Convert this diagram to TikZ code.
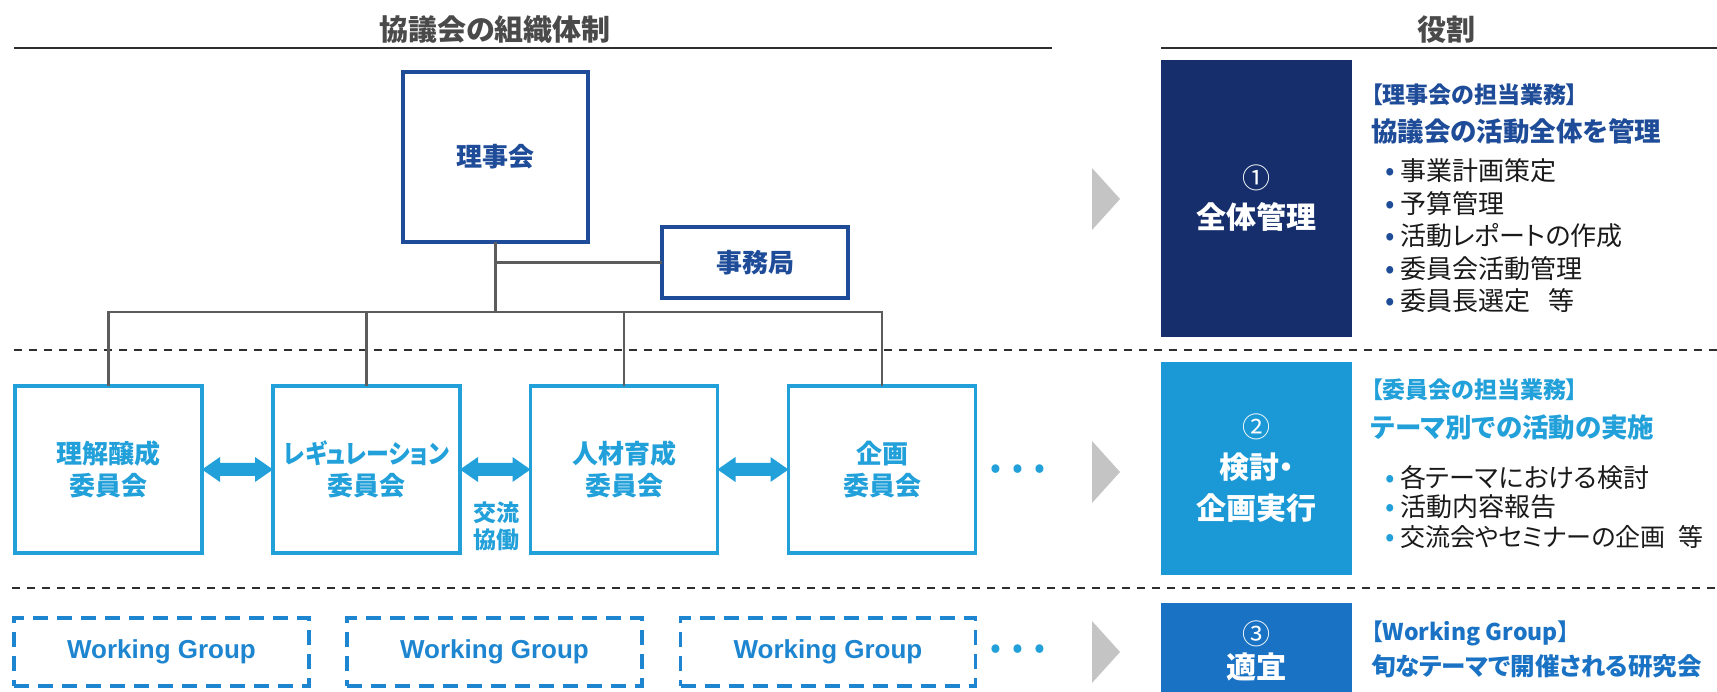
\documentclass[tikz,border=0pt]{standalone}
\usepackage{fontspec}
\usepackage{graphicx}
\setmainfont{Noto Sans CJK JP}[RawFeature=+palt]
\newfontfamily\wgfont{Liberation Sans}
\usetikzlibrary{calc}
\definecolor{cNavy}{HTML}{1E4C98}
\definecolor{cDark}{HTML}{162F6C}
\definecolor{cLight}{HTML}{22A0DA}
\definecolor{cLightFill}{HTML}{1B99D6}
\definecolor{cMid}{HTML}{1A72C4}
\definecolor{cWG}{HTML}{1E86D0}
\definecolor{cLine}{HTML}{5C5C5C}
\definecolor{cSep}{HTML}{2E2E2E}
\definecolor{cTitle}{HTML}{4A4A4A}
\definecolor{cTri}{HTML}{C4C4C4}
\definecolor{cText}{HTML}{1A1A1A}
\newcommand\myfs[2]{\fontsize{#1}{#2}\selectfont}
\newcommand\bul[2]{\makebox[20pt][c]{\color{#1}\myfs{28}{28}•}#2}
\newcommand\dbl[2]{\fill[cLight] (#1.east) -- ++(18,-12.5) -- ++(0,6) -- ($(#2.west)+(-18,-6.5)$) -- ++(0,-6) -- (#2.west) -- ++(-18,12.5) -- ++(0,-6) -- ($(#1.east)+(18,6.5)$) -- ++(0,6) -- cycle;}
\begin{document}
\begin{tikzpicture}[x=1pt,y=-1pt,
  every node/.style={inner sep=0pt, outer sep=0pt},
  conn/.style={draw=cLine, line width=2.6pt, line join=miter},
  sepline/.style={draw=cSep, line width=1.8pt, dash pattern=on 8pt off 7pt},
  hline/.style={draw=cSep, line width=2.6pt},
  topbox/.style={draw=cNavy, line width=3.5pt, fill=white, text=cNavy, font={\myfs{26}{32}\bfseries}, align=center},
  combox/.style={draw=cLight, line width=3.5pt, fill=white, text=cLight, font={\myfs{26}{32}\bfseries}, align=center, minimum width=187pt, minimum height=167pt},
  wgbox/.style={draw=cWG, line width=3.5pt, dash pattern=on 15pt off 9pt, text=cWG, font={\wgfont\myfs{26}{30}\bfseries}, minimum width=295pt, minimum height=68pt},
  rolebox/.style={minimum width=191pt, text=white, align=center},
  title/.style={text=cTitle, font={\myfs{29}{34}\bfseries}},
  headA/.style={anchor=west, font={\myfs{23}{28}\bfseries}},
  headB/.style={anchor=west, font={\myfs{26.5}{32}\bfseries}},
  item/.style={anchor=west, text=cText, font={\myfs{26}{32}}},
  dots/.style={text=cLight, font={\myfs{32}{32}}},
  tri/.style={fill=cTri}
]
\useasboundingbox (0,0) rectangle (1717,692);
\fill[white] (0,0) rectangle (1717,692);

% headers
\node[title] (t1) at (495,30) {協議会の組織体制};
\node[title] (t2) at (1446,30) {役割};
\draw[hline] (14,48) -- (1052,48);
\draw[hline] (1161,48) -- (1717,48);

% separators
\draw[sepline] (14,350) -- (1717,350);
\draw[sepline] (12,588) -- (1717,588);

% org chart
\coordinate (bus) at (0,312);
\node[topbox, minimum width=185pt, minimum height=170pt] (rij) at (495.5,157) {理事会};
\node[topbox, minimum width=186pt, minimum height=71pt] (jim) at (755,262.5) {事務局};
\node[combox] (c1) at (108.5,469.5) {理解醸成\\委員会};
\node[combox] (c2) at (366.5,469.5) {\scalebox{0.88}[1]{レギュレーション}\\委員会};
\node[combox] (c3) at (624,469.5) {人材育成\\委員会};
\node[combox] (c4) at (882,469.5) {企画\\委員会};

\draw[conn] (rij.south) -- (rij.south |- bus);
\draw[conn] (rij.south |- jim.west) -- (jim.west);
\draw[conn] (c1.north) -- (c1.north |- bus) -- (c4.north |- bus) -- (c4.north);
\draw[conn] (c2.north) -- (c2.north |- bus);
\draw[conn] (c3.north) -- (c3.north |- bus);

\dbl{c1}{c2}
\dbl{c2}{c3}
\dbl{c3}{c4}
\node[text=cLight, font={\myfs{23}{27}\bfseries}, align=center] (kr) at (496,526.5) {交流\\協働};
\node[dots] (d1) at (1018,472) {\makebox[22pt]{•}\makebox[22pt]{•}\makebox[22pt]{•}};

% working groups
\node[wgbox] (w1) at (161.5,652) {Working Group};
\node[wgbox] (w2) at (494.5,652) {Working Group};
\node[wgbox] (w3) at (828,652) {Working Group};
\node[dots] (d2) at (1018,652) {\makebox[22pt]{•}\makebox[22pt]{•}\makebox[22pt]{•}};

% gray triangles
\fill[tri] (1092,168) -- (1120,199) -- (1092,230) -- cycle;
\fill[tri] (1092,441) -- (1120,472) -- (1092,503) -- cycle;
\fill[tri] (1092,621) -- (1120,652) -- (1092,683) -- cycle;

% role boxes
\node[rolebox, fill=cDark, minimum height=277pt, font={\myfs{30}{40}\bfseries}] (r1) at (1256.5,198.5) {{\mdseries\myfs{28}{40}①}\\全体管理};
\node[rolebox, fill=cLightFill, minimum height=213pt, font={\myfs{30}{41}\bfseries}] (r2) at (1256.5,468.5) {{\mdseries\myfs{28}{41}②}\\検討・\\企画実行};
\node[rolebox, fill=cMid, minimum height=89pt] (r3) at (1256.5,647.5) {};
\node[text=white, align=center, font={\myfs{30}{34}\bfseries}] (r3t) at (1256.5,651) {{\mdseries\myfs{28}{34}③}\\適宜};

% section 1 texts
\node[headA, text=cNavy] (h1a) at (1371,95) {【理事会の担当業務】};
\node[headB, text=cNavy] (h1b) at (1371,131) {協議会の活動全体を管理};
\node[item] (i11) at (1380,171) {\bul{cNavy}{事業計画策定}};
\node[item] (i12) at (1380,204) {\bul{cNavy}{予算管理}};
\node[item] (i13) at (1380,236) {\bul{cNavy}{活動レポートの作成}};
\node[item] (i14) at (1380,269) {\bul{cNavy}{委員会活動管理}};
\node[item] (i15) at (1380,301) {\bul{cNavy}{委員長選定\hspace{0.7em}等}};

% section 2 texts
\node[headA, text=cLight] (h2a) at (1371,390) {【委員会の担当業務】};
\node[headB, text=cLight] (h2b) at (1371,428) {テーマ別での活動の実施};
\node[item] (i21) at (1380,478) {\bul{cLight}{各テーマにおける検討}};
\node[item] (i22) at (1380,507) {\bul{cLight}{活動内容報告}};
\node[item, font={\myfs{25}{32}}] (i23) at (1380,537) {\bul{cLight}{交流会やセミナーの企画\hspace{0.5em}等}};

% section 3 texts
\node[headA, text=cMid] (h3a) at (1371,633) {【Working Group】};
\node[headB, text=cMid, font={\myfs{24.5}{30}\bfseries}] (h3b) at (1371,666) {旬なテーマで開催される研究会};
\end{tikzpicture}
\end{document}
